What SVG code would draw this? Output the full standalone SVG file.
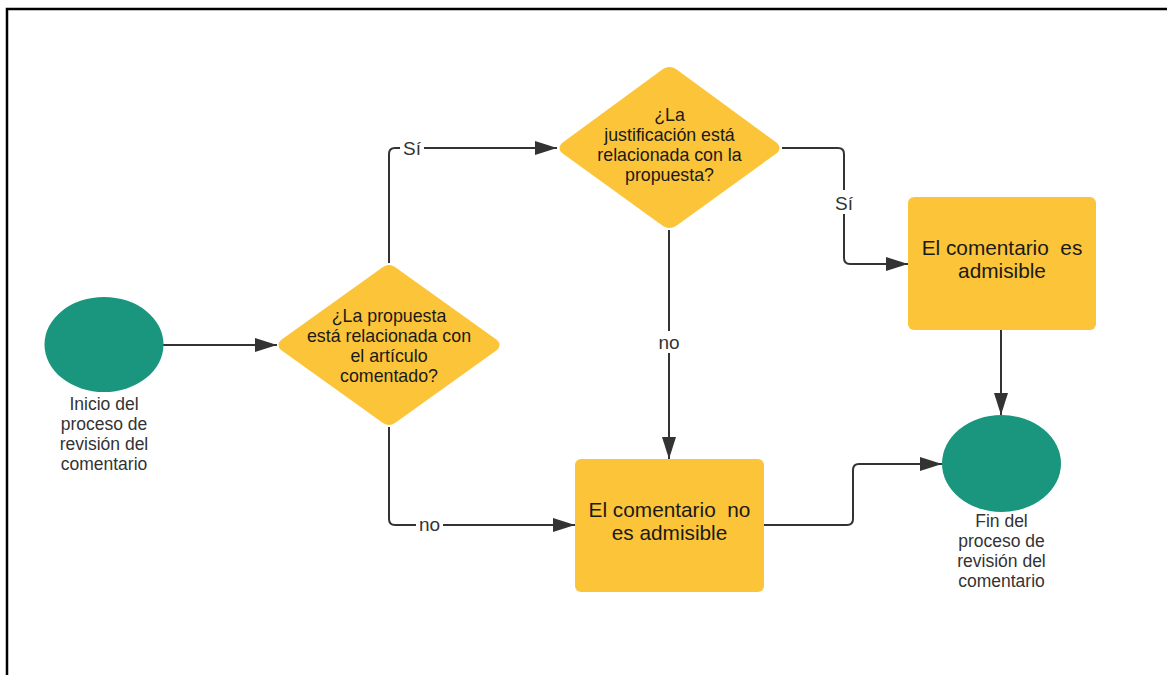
<svg xmlns="http://www.w3.org/2000/svg" width="1167" height="675" viewBox="0 0 1167 675">
<defs>
<marker id="arr" markerWidth="22" markerHeight="14" refX="22" refY="7" orient="auto" markerUnits="userSpaceOnUse">
<path d="M0,0 L22,7 L0,14 Z" fill="#333"/>
</marker>
<style>
.yel{fill:#FCC438;}
.grn{fill:#19967D;}
.t{font-family:"Liberation Sans",Arial,sans-serif;font-size:17.8px;fill:#1a1a1a;text-anchor:middle;}
.tb{font-family:"Liberation Sans",Arial,sans-serif;font-size:20.8px;fill:#1a1a1a;text-anchor:middle;}
.lbl{font-family:"Liberation Sans",Arial,sans-serif;font-size:17.5px;fill:#333;text-anchor:middle;}
.cl{font-family:"Liberation Sans",Arial,sans-serif;font-size:19px;fill:#333;text-anchor:middle;}
.c{fill:none;stroke:#333;stroke-width:2;}
</style>
</defs>
<rect width="1167" height="675" fill="#fff"/>
<path d="M7,675 L7,9 L1167,9" fill="none" stroke="#000" stroke-width="2.5"/>

<g id="connectors">
<path class="c" d="M163,345 L277,345" marker-end="url(#arr)"/>
<path class="c" d="M389,263 L389,154 Q389,148 395,148 L557,148" marker-end="url(#arr)"/>
<path class="c" d="M389,427 L389,519 Q389,525 395,525 L575,525" marker-end="url(#arr)"/>
<path class="c" d="M782,148 L838,148 Q844,148 844,154 L844,258 Q844,264 850,264 L908,264" marker-end="url(#arr)"/>
<path class="c" d="M669,230 L669,459" marker-end="url(#arr)"/>
<path class="c" d="M764,525 L847,525 Q853,525 853,519 L853,470 Q853,464 859,464 L942,464" marker-end="url(#arr)"/>
<path class="c" d="M1001,330 L1001,415" marker-end="url(#arr)"/>
<rect x="400" y="135" width="24" height="24" fill="#fff"/>
<text class="cl" x="412" y="155">Sí</text>
<rect x="416" y="513" width="27" height="22" fill="#fff"/>
<text class="cl" x="429.5" y="531">no</text>
<rect x="832" y="190" width="24" height="24" fill="#fff"/>
<text class="cl" x="844" y="210">Sí</text>
<rect x="655" y="331" width="28" height="22" fill="#fff"/>
<text class="cl" x="669" y="349">no</text>
</g>

<g id="start">
<ellipse class="grn" cx="104" cy="344.5" rx="59.5" ry="47.5"/>
<text class="lbl" x="104" y="410">Inicio del</text>
<text class="lbl" x="104" y="430">proceso de</text>
<text class="lbl" x="104" y="450">revisión del</text>
<text class="lbl" x="104" y="470">comentario</text>
</g>

<g id="decision1">
<path class="yel" d="M383,267 Q389,263 395,267 L497,340 Q502,345 497,350 L395,423 Q389,427 383,423 L281,350 Q276,345 281,340 Z"/>
<text class="t" x="389" y="322">¿La propuesta</text>
<text class="t" x="389" y="342">está relacionada con</text>
<text class="t" x="389" y="362">el artículo</text>
<text class="t" x="389" y="382">comentado?</text>
</g>

<g id="decision2">
<path class="yel" d="M663,69 Q669.5,65 676,69 L777,143 Q782,148 777,153 L676,226 Q669.5,230 663,226 L562,153 Q557,148 562,143 Z"/>
<text class="t" x="669.5" y="121">¿La</text>
<text class="t" x="669.5" y="141">justificación está</text>
<text class="t" x="669.5" y="161">relacionada con la</text>
<text class="t" x="669.5" y="181">propuesta?</text>
</g>

<g id="admisible">
<rect class="yel" x="908" y="197" width="188" height="133" rx="6"/>
<text class="tb" x="1002" y="255" xml:space="preserve">El comentario  es</text>
<text class="tb" x="1002" y="278">admisible</text>
</g>

<g id="no-admisible">
<rect class="yel" x="575" y="459" width="189" height="133" rx="6"/>
<text class="tb" x="669.5" y="517" xml:space="preserve">El comentario  no</text>
<text class="tb" x="669.5" y="540">es admisible</text>
</g>

<g id="end">
<ellipse class="grn" cx="1001.5" cy="463.5" rx="59.5" ry="48.5"/>
<text class="lbl" x="1001.5" y="527">Fin del</text>
<text class="lbl" x="1001.5" y="547">proceso de</text>
<text class="lbl" x="1001.5" y="567">revisión del</text>
<text class="lbl" x="1001.5" y="587">comentario</text>
</g>
</svg>
